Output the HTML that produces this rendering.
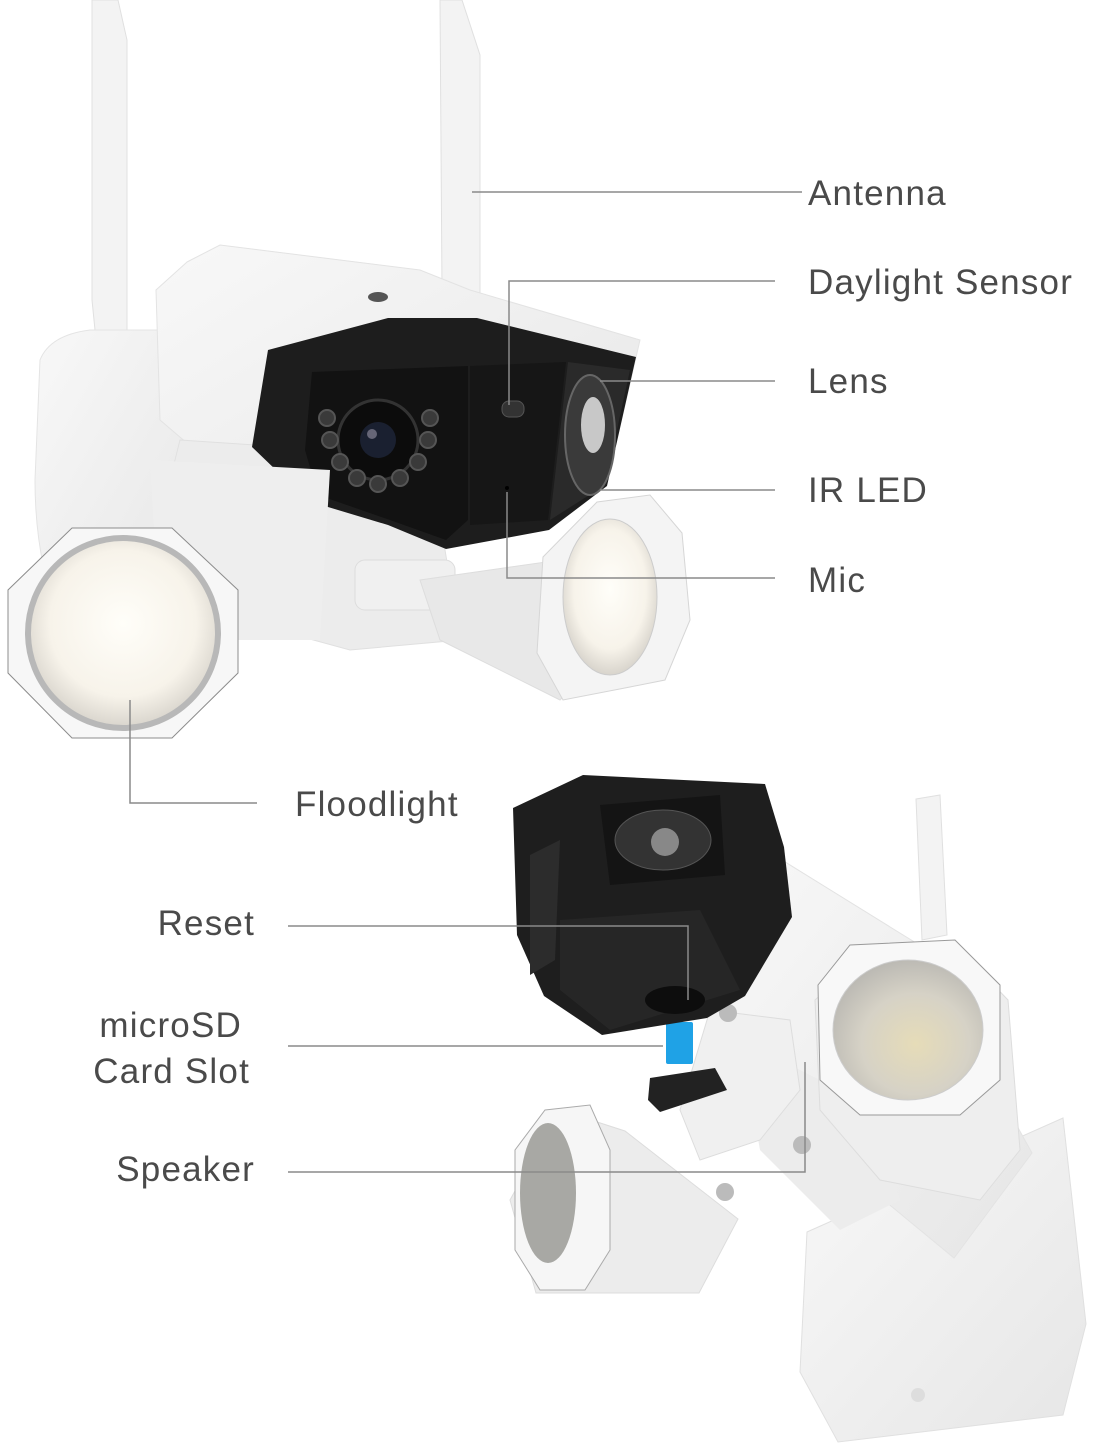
<!DOCTYPE html>
<html><head><meta charset="utf-8"><style>
html,body{margin:0;padding:0;background:#fff;}
svg{display:block;}
text{font-family:"Liberation Sans",sans-serif;font-size:35px;letter-spacing:1.2px;fill:#4a4a4a;}
</style></head><body>
<svg width="1097" height="1445" viewBox="0 0 1097 1445" xmlns="http://www.w3.org/2000/svg">
<defs>
<radialGradient id="lamp" cx="50%" cy="45%" r="55%"><stop offset="0" stop-color="#fffef9"/><stop offset="0.7" stop-color="#f7f3ea"/><stop offset="1" stop-color="#d8d4cc"/></radialGradient>
<radialGradient id="lamp2" cx="55%" cy="60%" r="60%"><stop offset="0" stop-color="#e6dcb8"/><stop offset="0.6" stop-color="#d6d2c6"/><stop offset="1" stop-color="#bcbab4"/></radialGradient>
<linearGradient id="wb" x1="0" y1="0" x2="1" y2="1"><stop offset="0" stop-color="#f8f8f8"/><stop offset="1" stop-color="#e6e6e6"/></linearGradient>
</defs>

<!-- ===== TOP CAMERA ===== -->
<polygon points="92,0 118,0 127,40 127,335 96,340 92,300" fill="#f3f3f3" stroke="#e0e0e0"/>
<polygon points="440,0 462,0 480,55 480,300 452,305 442,290" fill="#f3f3f3" stroke="#e0e0e0"/>
<path d="M40,360 Q50,335 90,330 L185,330 L200,520 L60,620 Q35,560 35,480 Z" fill="url(#wb)" stroke="#e4e4e4"/>
<polygon points="187,262 220,245 420,270 470,290 640,340 610,470 400,545 230,480 160,420 156,290" fill="url(#wb)" stroke="#e3e3e3"/>
<ellipse cx="378" cy="297" rx="10" ry="5" fill="#555"/>
<polygon points="180,440 330,450 440,520 460,640 350,650 240,620 150,560" fill="#ececec" stroke="#e0e0e0"/>
<rect x="355" y="560" width="100" height="50" rx="10" fill="#f0f0f0" stroke="#ddd"/>
<polygon points="420,580 560,560 620,640 560,700 440,640" fill="#e8e8e8" stroke="#ddd"/>
<polygon points="597,502 650,495 682,533 690,620 665,680 630,687 563,700 537,653 543,557" fill="#f4f4f4" stroke="#d6d6d6"/>
<ellipse cx="610" cy="597" rx="47" ry="78" fill="url(#lamp)" stroke="#ccc"/>
<polygon points="268,350 388,318 477,318 636,357 607,486 549,530 446,549 388,525 308,501 252,447" fill="#1d1d1d"/>
<polygon points="312,372 468,366 468,520 446,540 390,520 318,495 305,450" fill="#121212"/>
<polygon points="470,366 566,362 548,520 470,525" fill="#161616"/>
<polygon points="568,362 630,370 605,485 550,520" fill="#2a2a2a"/>
<ellipse cx="378" cy="440" rx="40" ry="40" fill="#0c0c0c" stroke="#333" stroke-width="3"/>
<circle cx="378" cy="440" r="18" fill="#1a2030"/>
<circle cx="372" cy="434" r="5" fill="#667"/>
<g fill="#3a3a3a" stroke="#555" stroke-width="2">
<circle cx="327" cy="418" r="8"/><circle cx="330" cy="440" r="8"/><circle cx="340" cy="462" r="8"/><circle cx="357" cy="478" r="8"/><circle cx="378" cy="484" r="8"/><circle cx="400" cy="478" r="8"/><circle cx="418" cy="462" r="8"/><circle cx="428" cy="440" r="8"/><circle cx="430" cy="418" r="8"/>
</g>
<ellipse cx="590" cy="435" rx="25" ry="60" fill="#3a3a3a" stroke="#666" stroke-width="2"/>
<ellipse cx="593" cy="425" rx="12" ry="28" fill="#c8c8c8"/>
<rect x="502" y="401" width="22" height="16" rx="7" fill="#333" stroke="#555"/>
<circle cx="507" cy="488" r="2" fill="#000"/>
<polygon points="150,460 330,470 320,640 160,640" fill="#eeeeee"/>
<polygon points="72,528 172,528 238,590 238,673 172,738 72,738 8,673 8,590" fill="#f7f7f7" stroke="#8c8c8c" stroke-width="1"/>
<circle cx="123" cy="633" r="95" fill="url(#lamp)" stroke="#b8b8b8" stroke-width="6"/>

<!-- ===== BOTTOM CAMERA ===== -->
<polygon points="807,1232 1063,1118 1086,1324 1063,1415 838,1442 800,1372" fill="url(#wb)" stroke="#e0e0e0"/>
<circle cx="918" cy="1395" r="7" fill="#ddd"/>
<polygon points="916,799 940,795 947,935 922,940" fill="#f3f3f3" stroke="#e0e0e0"/>
<polygon points="761,847 916,943 1032,1153 954,1258 800,1131 722,1022" fill="url(#wb)" stroke="#e3e3e3"/>
<polygon points="740,1040 860,1100 900,1200 840,1230 760,1150" fill="#ececec"/>
<polygon points="860,960 960,950 1008,1000 1020,1150 980,1200 880,1180 820,1110 815,1000" fill="#eeeeee" stroke="#ddd"/>
<polygon points="850,945 955,940 1000,985 1000,1080 960,1115 860,1115 820,1080 818,985" fill="#f8f8f8" stroke="#999" stroke-width="1"/>
<ellipse cx="908" cy="1030" rx="75" ry="70" fill="url(#lamp2)" stroke="#ccc"/>
<polygon points="710,1010 790,1020 800,1090 760,1140 700,1160 680,1110" fill="#f0f0f0" stroke="#ddd"/>
<circle cx="728" cy="1013" r="9" fill="#bbb"/><circle cx="802" cy="1145" r="9" fill="#bbb"/><circle cx="725" cy="1192" r="9" fill="#bbb"/>
<polygon points="560,1110 625,1131 738,1219 699,1293 536,1293 510,1200" fill="#ececec" stroke="#ddd"/>
<polygon points="545,1110 590,1105 610,1150 610,1250 585,1290 540,1290 515,1250 515,1150" fill="#f6f6f6" stroke="#aaa" stroke-width="1"/>
<ellipse cx="548" cy="1193" rx="28" ry="70" fill="#a8a8a4"/>
<rect x="666" y="1022" width="27" height="42" fill="#1fa2e6" rx="2"/>
<polygon points="650,1078 715,1068 727,1090 660,1112 648,1100" fill="#222"/>
<polygon points="513,808 583,775 765,784 784,847 792,917 745,996 707,1018 602,1035 544,996 517,935" fill="#1e1e1e"/>
<polygon points="600,805 720,795 725,875 610,885" fill="#141414"/>
<ellipse cx="663" cy="840" rx="48" ry="30" fill="#333" stroke="#555"/>
<circle cx="665" cy="842" r="14" fill="#888"/>
<polygon points="530,855 560,840 555,960 530,975" fill="#2c2c2c"/>
<polygon points="560,920 700,910 740,990 610,1030 560,990" fill="#262626"/>
<ellipse cx="675" cy="1000" rx="30" ry="14" fill="#0d0d0d"/>

<!-- ===== CONNECTOR LINES ===== -->
<g stroke="#8a8a8a" stroke-width="1.5" fill="none">
<line x1="472" y1="192" x2="802" y2="192"/>
<polyline points="509,405 509,281 775,281"/>
<line x1="600" y1="381" x2="775" y2="381"/>
<line x1="600" y1="490" x2="775" y2="490"/>
<polyline points="507,492 507,578 775,578"/>
<polyline points="130,700 130,803 257,803"/>
<polyline points="288,926 688,926 688,1000"/>
<line x1="288" y1="1046" x2="663" y2="1046"/>
<polyline points="288,1172 805,1172 805,1062"/>
</g>

<!-- ===== LABELS ===== -->
<text x="808" y="205">Antenna</text>
<text x="808" y="294">Daylight Sensor</text>
<text x="808" y="393">Lens</text>
<text x="808" y="502">IR LED</text>
<text x="808" y="592">Mic</text>
<text x="295" y="816">Floodlight</text>
<text x="255" y="935" text-anchor="end">Reset</text>
<text x="242" y="1037" text-anchor="end">microSD</text>
<text x="250" y="1083" text-anchor="end">Card Slot</text>
<text x="255" y="1181" text-anchor="end">Speaker</text>
</svg>
</body></html>
